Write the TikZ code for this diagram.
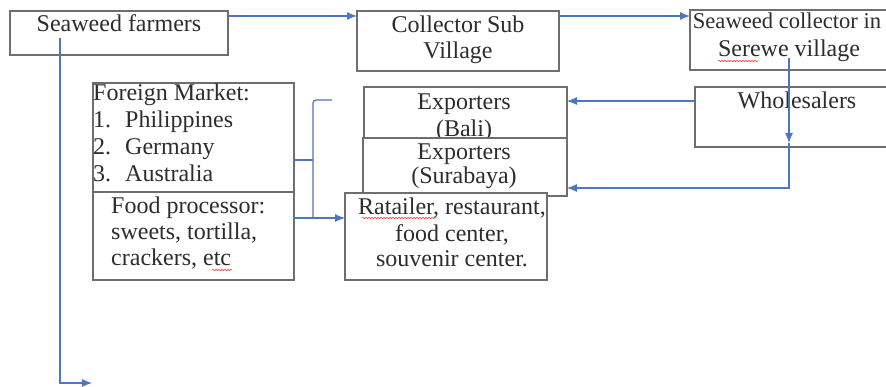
\documentclass[tikz,border=0pt]{standalone}
\usepackage{fontspec}
\setmainfont{Liberation Serif}
\usetikzlibrary{arrows.meta,decorations.pathmorphing}
\definecolor{bluel}{RGB}{76,118,190}
\definecolor{boxc}{RGB}{110,110,110}
\definecolor{tx}{RGB}{45,45,45}
\begin{document}
\begin{tikzpicture}[x=1pt,y=-1pt,
  box/.style={draw=boxc, line width=1.3pt, fill=white, inner sep=0pt, outer sep=0pt, anchor=north west},
  txt/.style={font=\fontsize{24}{28}\selectfont, text=tx, inner sep=0pt, anchor=base},
  txtl/.style={txt, anchor=base west},
  bline/.style={draw=bluel, line width=1.2pt},
  arr/.style={bline, -{Latex[length=10pt,width=8pt]}},
  squig/.style={draw=red!80, line width=0.5pt, decorate, decoration={snake, amplitude=0.7pt, segment length=3pt}}
]
\path[use as bounding box, clip] (0,0) rectangle (886,387);
\fill[white] (0,0) rectangle (886,387);

% boxes and texts
\node[box, minimum width=218pt, minimum height=44pt] (farm) at (10,11) {};
\node[txt] (tfarm) at (119,32) {Seaweed farmers};

\node[box, minimum width=202pt, minimum height=60pt] (csv) at (357,11) {};
\node[txt] (tcsv1) at (458,33) {Collector Sub};
\node[txt] (tcsv2) at (458,59) {Village};

\node[box, minimum width=200pt, minimum height=60pt] (scol) at (690,10) {};
\node[txt, font=\fontsize{22.6}{28}\selectfont] (tscol1) at (787,29) {Seaweed collector in};
\node[txt] (tscol2) at (789,57) {Serewe village};

\node[box, minimum width=200pt, minimum height=60pt] (whol) at (695,87) {};
\node[txt] (twhol) at (797,109) {Wholesalers};

\node[box, minimum width=201pt, minimum height=109pt] (fm) at (93,83) {};
\node[txtl] (tfm0) at (93,101) {Foreign Market:};
\node[txtl] (tfm1a) at (93,128) {1.};
\node[txtl] (tfm1b) at (125,128) {Philippines};
\node[txtl] (tfm2a) at (93,155) {2.};
\node[txtl] (tfm2b) at (125,155) {Germany};
\node[txtl] (tfm3a) at (93,182) {3.};
\node[txtl] (tfm3b) at (125,182) {Australia};

\node[box, minimum width=201pt, minimum height=88pt] (fp) at (93,192) {};
\node[txtl] (tfp1) at (111,214) {Food processor:};
\node[txtl] (tfp2) at (111,240) {sweets, tortilla,};
\node[txtl] (tfp3) at (111,266) {crackers, etc};

\node[box, minimum width=203pt, minimum height=51pt] (bali) at (364,87) {};
\node[txt] (tbali1) at (464,110) {Exporters};
\node[txt] (tbali2) at (464,137) {(Bali)};

\node[box, minimum width=204pt, minimum height=58pt] (sura) at (363,138) {};
\node[txt] (tsura1) at (464,160) {Exporters};
\node[txt] (tsura2) at (464,184) {(Surabaya)};

\node[box, minimum width=202pt, minimum height=87pt] (ret) at (345,193) {};
\node[txt] (tret1) at (452,215) {Ratailer, restaurant,};
\node[txt] (tret2) at (452,242) {food center,};
\node[txt] (tret3) at (452,267) {souvenir center.};

% spell-check squiggles
\draw[squig] (718,61) -- (758,61);
\draw[squig] (362,218) -- (437,218);
\draw[squig] (212,270) -- (232,270);

% connectors
\coordinate (c0) at ([yshift=-5pt]farm.north east);
\draw[arr] (c0) -- (c0 -| csv.west);
\coordinate (c1) at ([yshift=-5pt]csv.north east);
\draw[arr] (c1) -- (c1 -| scol.west);
\coordinate (w1) at ([yshift=-14pt]whol.north west);
\draw[arr] (w1) -- (w1 -| bali.east);

\coordinate (s0) at (789,58);
\coordinate (s1) at (789,143);
\coordinate (s2) at (789,188);
\draw[arr] (s0) -- (s1);
\draw[arr] (s1) -- (s2) -- (s2 -| sura.east);

\coordinate (b0) at (313,160);
\coordinate (bt) at (313,100);
\coordinate (btk) at (332,100);
\coordinate (bb) at (313,218);
\draw[bline, rounded corners=3pt] (fm.east |- b0) -- (b0);
\draw[bline, rounded corners=3pt] (btk) -- (bt) -- (bb);
\draw[arr] (fp.east |- bb) -- (ret.west |- bb);

\coordinate (f0) at (60,38);
\coordinate (f1) at (60,383);
\coordinate (f2) at (92,383);
\draw[arr] (f0) -- (f1) -- (f2);
\end{tikzpicture}
\end{document}
